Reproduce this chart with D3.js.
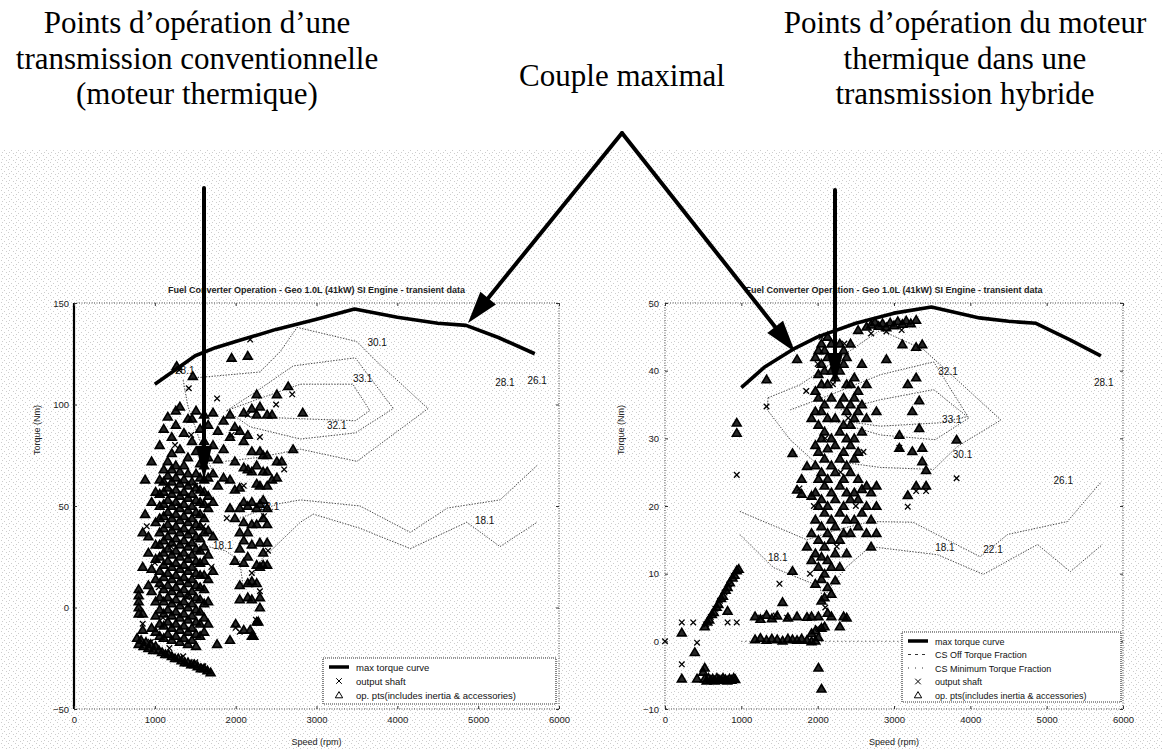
<!DOCTYPE html>
<html>
<head>
<meta charset="utf-8">
<script src="https://cdn.jsdelivr.net/npm/d3@7"></script>
<style>
  body { margin: 0; background: #fff; }
  svg { display: block; }
</style>
</head>
<body>
<svg id="fig" width="1163" height="750"></svg>
<script>
// ---- texts
var plotTitle = "Fuel Converter Operation - Geo 1.0L (41kW) SI Engine - transient data";
var xLabel = "Speed (rpm)", yLabel = "Torque (Nm)";
var legendL = ["max torque curve", "output shaft", "op. pts(includes inertia & accessories)"];
var legendR = ["max torque curve", "CS Off Torque Fraction", "CS Minimum Torque Fraction", "output shaft", "op. pts(includes inertia & accessories)"];
var noteLeft = ["Points d’opération d’une", "transmission conventionnelle", "(moteur thermique)"];
var noteMid = ["Couple maximal"];
var noteRight = ["Points d’opération du moteur", "thermique dans une", "transmission hybride"];

// ---- ticks
var xTicks = [0, 1000, 2000, 3000, 4000, 5000, 6000];
var yTicksL = [-50, 0, 50, 100, 150];
var yTicksR = [-10, 0, 10, 20, 30, 40, 50];

// ---- left panel (conventional), [rpm, Nm]
var maxTorqueL = [[1000,110],[1250,117],[1500,124],[1750,128],[2000,131],[2500,137],[3000,142],[3470,147],[4000,143],[4500,140],[4850,139],[5250,133],[5700,125]];
var contL28 = [[1350,112],[1410,99],[1560,82],[1745,64]];
var contL30 = [[1460,113],[2300,116],[2550,126],[2760,138],[3500,131],[3750,121],[4380,98],[3500,72],[2800,78],[2300,74],[1870,72]];
var contL32 = [[1890,97],[2240,106],[2710,119],[3480,123],[3950,98],[3480,86],[2800,83],[2180,89],[1890,97]];
var contL33 = [[1890,97],[2300,103],[2800,110],[3450,110],[3660,97],[3480,92],[2800,93],[2180,94]];
var contL22 = [[2050,44],[2520,51],[2800,53],[3540,50],[4160,37],[4620,49],[5270,53],[5730,70]];
var contL18 = [[1440,32],[1870,28],[2050,23],[2090,11],[2180,13],[2330,24],[2800,42],[2960,46],[3540,39],[4160,29],[4860,42],[5270,30],[5730,42]];
var labelsL = [[1250,115,"28.1"],[3630,129,"30.1"],[3450,111,"33.1"],[3130,88,"32.1"],[5210,109,"28.1"],[5610,110,"26.1"],[2300,48,"22.1"],[1720,29,"18.1"],[4960,41,"18.1"]];

// op. points, by speed column: [rpm, [torques]]
var opColsL = [
  [800, [-3, 0, 3, 6, 9]],
  [850, [-11, -3, 20, 37]],
  [880, [46, 63]],
  [920, [11, 27, 35]],
  [960, [-10, 8, 19, 52, 72]],
  [1010, [-12, -4, 3, 14, 24, 31, 42, 57]],
  [1060, [-14, -8, -1, 5, 12, 18, 25, 31, 37, 44, 50, 56, 63, 80]],
  [1110, [-15, -9, -3, 3, 9, 15, 21, 27, 33, 39, 45, 51, 57, 62, 68, 88]],
  [1160, [-13, -7, -1, 5, 11, 17, 23, 29, 35, 41, 47, 53, 59, 65, 72, 94]],
  [1210, [-16, -10, -4, 2, 8, 14, 20, 26, 32, 38, 44, 50, 56, 62, 68, 76, 84]],
  [1260, [-14, -8, -2, 4, 10, 16, 22, 28, 34, 40, 46, 52, 58, 64, 70, 90, 97]],
  [1270, [119]],
  [1310, [-17, -11, -5, 1, 7, 13, 19, 25, 31, 37, 43, 49, 55, 61, 67, 78, 99]],
  [1360, [-15, -9, -3, 3, 9, 15, 21, 27, 33, 39, 45, 51, 57, 63, 70, 86]],
  [1410, [-18, -12, -6, 0, 6, 12, 18, 24, 30, 36, 42, 48, 54, 60, 66, 74, 93]],
  [1460, [-16, -10, -4, 2, 8, 14, 20, 26, 32, 38, 44, 50, 56, 62, 82, 93]],
  [1470, [114]],
  [1510, [-19, -13, -7, -1, 5, 11, 17, 23, 29, 35, 41, 47, 53, 59, 66, 77, 97]],
  [1560, [-14, -8, -2, 4, 10, 16, 22, 28, 34, 40, 46, 52, 58, 64, 71, 88]],
  [1610, [-12, -5, 2, 9, 16, 23, 30, 37, 44, 51, 57, 63, 70, 82, 95]],
  [1660, [-8, 3, 14, 26, 38, 49, 55, 64, 74, 90]],
  [1720, [18, 35, 52, 66, 80, 96]],
  [1780, [60, 73, 87]],
  [1850, [64, 78, 92]],
  [1930, [49, 63, 84, 95]],
  [1950, [123]],
  [1990, [23, 44, 58, 72, 89]],
  [2050, [4, 11, 29, 37, 49, 59, 87]],
  [2100, [-11, 22, 33, 42, 52, 69, 82, 96]],
  [2150, [5, 12, 25, 37, 50, 68, 85, 124]],
  [2200, [-14, 4, 13, 31, 41, 52, 67, 77, 98]],
  [2260, [-7, 12, 21, 41, 49, 61, 70, 95, 105]],
  [2300, [0, 5, 20, 32, 51, 60, 77, 99]],
  [2340, [21, 27, 44, 53, 67, 75]],
  [2390, [21, 32, 41, 49, 60, 67, 75, 95]],
  [2450, [63, 95]],
  [2510, [64, 72, 105]],
  [2570, [72]],
  [2650, [109]],
  [2710, [78]],
  [2830, [96]]
];
var opDecelL = [[780,-15],[800,-18],[830,-16],[860,-19],[890,-17],[920,-20],[950,-18],[980,-21],[1010,-19],[1050,-21],[1090,-22],[1130,-23],[1170,-23],[1210,-24],[1250,-25],[1290,-25],[1330,-26],[1370,-27],[1410,-27],[1450,-28],[1490,-28],[1530,-29],[1570,-30],[1610,-30],[1650,-31],[1690,-32],[1770,-18],[1930,-16],[2000,-8],[2180,-11],[2280,-7],[2220,-14]];
var shaftL = [[1770,103],[2180,132],[1890,44],[1300,117],[1420,108],[850,-8],[900,40],[1000,22],[2000,-10],[2050,-12],[2250,-6],[2300,8],[2100,60],[2300,84],[1180,-20],[1350,-24],[1500,-27],[1600,-29],[950,-17],[1050,10],[1200,30],[1300,50],[1400,5],[1500,60],[1600,40],[1700,20],[1250,80],[1150,60],[1100,-5],[1450,85],[1950,85],[2400,28],[2200,17],[2350,45],[2150,95],[2500,100],[2700,105],[2600,68]];

// ---- right panel (hybrid), [rpm, Nm]
var maxTorqueR = [[1000,37.5],[1300,40.5],[1700,43.3],[2000,45],[2500,47],[3000,48.5],[3490,49.4],[4120,47.8],[4500,47.3],[4860,47],[5300,44.6],[5710,42.2]];
var csMinTorqueR = [[1000,0],[6000,0]];
var contR28 = [[1350,36],[1340,34.2],[1640,29.8],[2030,25.8]];
var contR30 = [[1350,36],[1770,37.9],[2820,46],[3390,43.1],[3830,38.6],[4400,32.7],[3830,28.8],[3520,25.4],[2820,25.7],[2300,26.5]];
var contR32 = [[1640,34.2],[2160,36.4],[2820,39.4],[3520,41.3],[3980,33],[3540,29.8],[2820,30.5],[2160,32.7]];
var contR33 = [[2300,34.2],[2820,35.7],[3520,37.2],[3960,33.2],[3610,32.3],[2820,31.8],[2300,32.6]];
var contR22 = [[980,19.2],[1860,15],[2260,16.5],[2690,17.7],[3250,17.6],[4130,12.5],[4490,15.8],[5270,17.7],[5710,23.5]];
var contR18 = [[980,15.8],[1420,10.9],[1810,9.1],[2030,8.1],[2070,5.8],[2140,7.7],[2390,11.1],[2690,14],[3570,12.8],[4170,9.9],[4880,14.3],[5310,10.3],[5730,14.3]];
var labelsR = [[3580,39.4,"32.1"],[3630,32.3,"33.1"],[3770,27.1,"30.1"],[5620,37.8,"28.1"],[5090,23.2,"26.1"],[1350,11.9,"18.1"],[3540,13.4,"18.1"],[4170,13,"22.1"]];

var opColsR = [
  [220, [1.3, -5.5]],
  [390, [-1.6]],
  [420, [-5.5]],
  [500, [-4.5]],
  [520, [-3.9]],
  [820, [4.5]],
  [940, [30.8, 32.3]],
  [1180, [0.3, 3.7]],
  [1250, [0.5, 3.3]],
  [1330, [0.2, 3.9, 38.7]],
  [1400, [0.4, 3.4]],
  [1470, [0.3, 3.8]],
  [1540, [0.1, 5.8]],
  [1610, [0.4, 3.5]],
  [1670, [0.3, 10.4, 27.8]],
  [1730, [0.2, 3.7, 22.4, 41.7]],
  [1790, [0.4, 21.8, 24]],
  [1860, [0.2, 3.6, 14, 25.9]],
  [1920, [0, 1.2, 3.7, 12, 16, 21.5, 33]],
  [1970, [0.1, 1.6, 8.5, 13, 18, 22, 26, 29, 34, 37, 42]],
  [2010, [-3.9, 0.6, 3.7, 11, 15, 20, 24, 28, 32, 36, 39.5, 43]],
  [2050, [-7, 2, 6, 9.2, 12.5, 17, 21, 25, 30, 34, 38, 41, 44]],
  [2090, [2.2, 6.5, 10, 14, 19, 23, 27, 31, 35, 40, 43]],
  [2130, [4.2, 8, 12, 16, 20, 24, 28.5, 33, 38, 42, 45]],
  [2180, [3.7, 7, 11, 15, 18, 22, 26, 30, 36, 40, 44]],
  [2230, [9, 13, 17, 21, 25, 29, 33, 39, 42]],
  [2290, [2.2, 11, 15, 19, 23, 27, 31, 35, 40, 44]],
  [2340, [3.7, 16, 20, 24, 28, 32, 36, 41, 43]],
  [2380, [3.5, 13, 18, 22, 26, 30, 34, 38, 42]],
  [2430, [16, 21, 25, 29, 32, 35, 38, 44]],
  [2480, [18, 22, 27, 30, 33, 36, 39]],
  [2530, [17, 21, 24, 28, 34, 37, 46]],
  [2580, [19, 22.5, 31, 35, 41]],
  [2640, [16, 20, 23, 33, 38, 46.5]],
  [2700, [14, 18, 22, 46.8]],
  [2750, [47.2]],
  [2770, [16, 20, 23, 34]],
  [2800, [46.6]],
  [2850, [47]],
  [2900, [41.7, 46.4]],
  [2950, [47.1]],
  [3000, [46.7]],
  [3050, [47.3]],
  [3070, [28.6, 30.5]],
  [3110, [43.9, 46.9]],
  [3160, [47.4]],
  [3180, [21.6, 38]],
  [3220, [47]],
  [3240, [28.1, 34]],
  [3290, [23, 39, 43.5, 47.5]],
  [3330, [31.5, 35.6]],
  [3370, [26.6, 28.6, 43.9]],
  [3420, [23, 25.3]],
  [3820, [29.8]]
];
// low-speed ramp and idle row
var opLowR = [[520,2.2],[555,2.9],[580,3.2],[615,4.0],[640,4.3],[675,5.1],[700,5.5],[735,6.4],[760,6.7],[795,7.6],[820,8.0],[850,8.7],[885,9.4],[910,9.8],[940,10.5],[965,10.7],
  [520,-5.5],[545,-5.8],[570,-5.4],[600,-5.7],[625,-5.5],[650,-5.8],[680,-5.4],[705,-5.6],[735,-5.7],[760,-5.4],[790,-5.6],[815,-5.8],[845,-5.5],[870,-5.7],[900,-5.4],[920,-5.6]];
var shaftR = [[0,0],[220,2.8],[370,2.8],[420,-0.2],[220,-3.4],[820,2.8],[940,2.8],[1330,34.7],[940,24.6],[1760,22.6],[3070,28.6],[3820,24.1],[3290,22.2],[3420,22.2],[3180,19.9],[540,2.5],[600,3.6],[660,4.8],[720,6],[780,7.2],[840,8.4],[900,9.6],[1250,3.5],[1450,3.8],[1600,3.5],[1500,8.5],[2000,2],[2100,5],[1950,20],[2100,30],[2200,38],[2300,25],[2400,33],[2500,20],[2600,28],[2700,45.5],[2900,45.8],[3100,46],[2050,45],[2350,44],[1900,10],[2250,14],[1850,37],[2000,41]];

// ---------------------------------------------------------------
var svg = d3.select("#fig");
var FONT = "'Liberation Sans', Arial, sans-serif";
var SERIF = "'Liberation Serif', 'Times New Roman', serif";

// scanned-paper speckle
var defs = svg.append("defs");
var pat = defs.append("pattern").attr("id", "speck")
  .attr("width", 7).attr("height", 7).attr("patternUnits", "userSpaceOnUse");
[[1,1],[4,3],[2,5],[6,6]].forEach(function(p) {
  pat.append("rect").attr("x", p[0]).attr("y", p[1]).attr("width", 1).attr("height", 1).attr("fill", "#9a9a9a");
});
svg.append("rect").attr("x", 0).attr("y", 150).attr("width", 1163).attr("height", 600)
  .attr("fill", "url(#speck)").attr("opacity", 0.5);

var triPath = "M0,-4.2L4.4,3.3L-4.4,3.3Z";
var triLegend = "M0,-3.4L3.7,2.8L-3.7,2.8Z";
var xPath = "M-2.8,-2.8L2.8,2.8M-2.8,2.8L2.8,-2.8";

function flatCols(cols) {
  var out = [];
  cols.forEach(function(c) { c[1].forEach(function(t) { out.push([c[0], t]); }); });
  return out;
}

function drawPanel(cfg) {
  var x = d3.scaleLinear().domain([0, 6000]).range(cfg.xr);
  var y = d3.scaleLinear().domain(cfg.yd).range([709, 303]);
  var g = svg.append("g");
  var x0 = cfg.xr[0], x1 = cfg.xr[1], y0 = 303, y1 = 709;

  // title
  g.append("text").attr("x", (x0 + x1) / 2).attr("y", 293)
    .attr("text-anchor", "middle").style("font", "bold 9px " + FONT).attr("fill", "#222")
    .text(plotTitle);

  // frame (dotted box)
  g.append("rect").attr("x", x0).attr("y", y0).attr("width", x1 - x0).attr("height", y1 - y0)
    .attr("fill", "none").attr("stroke", "#444").attr("stroke-width", 1).attr("stroke-dasharray", "1,1.5");
  if (cfg.solidLeft) {
    g.append("line").attr("x1", x0).attr("x2", x0).attr("y1", y0).attr("y2", y1)
      .attr("stroke", "#000").attr("stroke-width", 2.2);
  }

  // axes
  var ax = g.append("g").attr("transform", "translate(0," + y1 + ")")
    .call(d3.axisBottom(x).tickValues(xTicks).tickSize(-3).tickPadding(7).tickFormat(d3.format("d")));
  var axT = g.append("g").attr("transform", "translate(0," + y0 + ")")
    .call(d3.axisTop(x).tickValues(xTicks).tickSize(-3).tickFormat(""));
  var ay = g.append("g").attr("transform", "translate(" + x0 + ",0)")
    .call(d3.axisLeft(y).tickValues(cfg.yTicks).tickSize(-3).tickPadding(cfg.pad).tickFormat(d3.format("d")));
  var ayR = g.append("g").attr("transform", "translate(" + x1 + ",0)")
    .call(d3.axisRight(y).tickValues(cfg.yTicks).tickSize(-3).tickFormat(""));
  [ax, axT, ay, ayR].forEach(function(a) {
    a.select(".domain").remove();
    a.selectAll(".tick line").attr("stroke", "#333");
    a.selectAll(".tick text").style("font", "9.5px " + FONT).attr("fill", "#222");
  });

  g.append("text").attr("x", (x0 + x1) / 2).attr("y", 745).attr("text-anchor", "middle")
    .style("font", "9px " + FONT).attr("fill", "#222").text(xLabel);
  g.append("text").attr("transform", "translate(" + cfg.ylx + ",430) rotate(-90)")
    .attr("text-anchor", "middle").style("font", "9px " + FONT).attr("fill", "#222").text(yLabel);

  var line = d3.line().x(function(d) { return x(d[0]); }).y(function(d) { return y(d[1]); });

  // efficiency contours
  cfg.contours.forEach(function(c) {
    g.append("path").datum(c).attr("d", line).attr("fill", "none")
      .attr("stroke", "#333").attr("stroke-width", 0.9).attr("stroke-dasharray", "1.4,1.4");
  });
  g.selectAll(".clab").data(cfg.labels).enter().append("text")
    .attr("x", function(d) { return x(d[0]); }).attr("y", function(d) { return y(d[1]); })
    .style("font", "10px " + FONT).attr("fill", "#111").text(function(d) { return d[2]; });

  if (cfg.csLine) {
    g.append("path").datum(cfg.csLine).attr("d", line).attr("fill", "none")
      .attr("stroke", "#333").attr("stroke-width", 1).attr("stroke-dasharray", "1,3");
  }

  // op points (triangles, scanned so they read nearly solid) and output shaft (x)
  g.selectAll(".op").data(cfg.ops).enter().append("path")
    .attr("d", triPath).attr("transform", function(d) { return "translate(" + x(d[0]) + "," + y(d[1]) + ")"; })
    .attr("fill", "#000").attr("fill-opacity", 0.85).attr("stroke", "#000").attr("stroke-width", 1.6);
  g.selectAll(".sh").data(cfg.shaft).enter().append("path")
    .attr("d", xPath).attr("transform", function(d) { return "translate(" + x(d[0]) + "," + y(d[1]) + ")"; })
    .attr("fill", "none").attr("stroke", "#000").attr("stroke-width", 1.3);

  // max torque curve
  g.append("path").datum(cfg.maxT).attr("d", line).attr("fill", "none")
    .attr("stroke", "#000").attr("stroke-width", 3.6).attr("stroke-linejoin", "round");

  // legend
  var L = cfg.legend;
  var lg = g.append("g").attr("transform", "translate(" + L.x + "," + L.y + ")");
  lg.append("rect").attr("width", L.w).attr("height", L.h).attr("fill", "#fff")
    .attr("stroke", "#333").attr("stroke-dasharray", "1,1").attr("stroke-width", 1.2);
  L.items.forEach(function(t, i) {
    var yy = 9 + i * L.step;
    var kind = L.kinds[i];
    if (kind === "thick") {
      lg.append("line").attr("x1", 6).attr("x2", 26).attr("y1", yy).attr("y2", yy).attr("stroke", "#000").attr("stroke-width", 3.5);
    } else if (kind === "dash") {
      lg.append("line").attr("x1", 6).attr("x2", 26).attr("y1", yy).attr("y2", yy).attr("stroke", "#333").attr("stroke-dasharray", "3,4");
    } else if (kind === "dot") {
      lg.append("line").attr("x1", 6).attr("x2", 26).attr("y1", yy).attr("y2", yy).attr("stroke", "#333").attr("stroke-dasharray", "1,6");
    } else if (kind === "x") {
      lg.append("path").attr("d", xPath).attr("transform", "translate(16," + yy + ")").attr("stroke", "#000").attr("fill", "none");
    } else {
      lg.append("path").attr("d", triLegend).attr("transform", "translate(16," + yy + ")").attr("stroke", "#000").attr("fill", "none").attr("stroke-width", 1);
    }
    lg.append("text").attr("x", 33).attr("y", yy + 3.5).style("font", L.font + "px " + FONT).attr("fill", "#111").text(t);
  });
}

drawPanel({
  xr: [74, 559], yd: [-50, 150], yTicks: yTicksL, pad: 5, ylx: 40, solidLeft: true,
  contours: [contL28, contL30, contL32, contL33, contL22, contL18], labels: labelsL,
  ops: flatCols(opColsL).concat(opDecelL), shaft: shaftL, maxT: maxTorqueL,
  legend: { x: 323, y: 658, w: 233, h: 46, step: 14, font: 9.5, items: legendL, kinds: ["thick", "x", "tri"] }
});
drawPanel({
  xr: [665, 1123], yd: [-10, 50], yTicks: yTicksR, pad: 6, ylx: 624, solidLeft: false,
  contours: [contR28, contR30, contR32, contR33, contR22, contR18], labels: labelsR, csLine: csMinTorqueR,
  ops: flatCols(opColsR).concat(opLowR), shaft: shaftR, maxT: maxTorqueR,
  legend: { x: 902, y: 632, w: 219, h: 70, step: 13.5, font: 9, items: legendR, kinds: ["thick", "dash", "dot", "x", "tri"] }
});

// ---- annotations
function notes(lines, cx, y0) {
  lines.forEach(function(t, i) {
    svg.append("text").attr("x", cx).attr("y", y0 + i * 35.5).attr("text-anchor", "middle")
      .style("font", "31px " + SERIF).attr("fill", "#000").text(t);
  });
}
notes(noteLeft, 197, 33);
notes(noteMid, 622, 86);
notes(noteRight, 965, 33);

function arrow(x1, y1, x2, y2, hl, hw) {
  var a = Math.atan2(y2 - y1, x2 - x1), c = Math.cos(a), s = Math.sin(a);
  var bx = x2 - hl * c, by = y2 - hl * s;
  svg.append("line").attr("x1", x1).attr("y1", y1).attr("x2", bx + 2 * c).attr("y2", by + 2 * s)
    .attr("stroke", "#000").attr("stroke-width", 4).attr("stroke-linecap", "round");
  svg.append("path").attr("d", "M" + x2 + "," + y2 + "L" + (bx - hw / 2 * s) + "," + (by + hw / 2 * c) +
    "L" + (bx + hw / 2 * s) + "," + (by - hw / 2 * c) + "Z").attr("fill", "#000");
}
arrow(204, 188, 204, 480, 34, 16);
arrow(835, 190, 835, 385, 32, 16);
arrow(622, 133, 468, 323, 32, 20);
arrow(622, 133, 795, 352, 32, 20);
</script>
</body>
</html>
